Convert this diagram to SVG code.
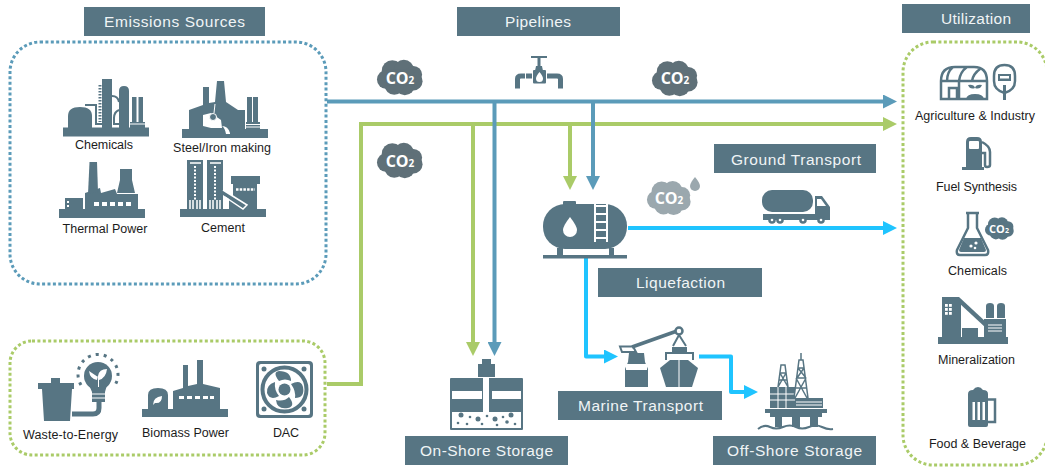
<svg xmlns="http://www.w3.org/2000/svg" xmlns:xlink="http://www.w3.org/1999/xlink" width="1045" height="468" viewBox="0 0 1045 468">
<style>
text{font-family:"Liberation Sans",Arial,sans-serif}
.lab{font-size:12.5px;fill:#1c1c1c;text-anchor:middle}
.hd{font-size:15.5px;fill:#f0f4f6;text-anchor:middle}
.hr{fill:#577583}
.d{fill:#577583}
.w{fill:#fff}
.sw{stroke:#fff;fill:none}
.sd{stroke:#577583;fill:none}
.co{font-family:"Open Sans","Liberation Sans",sans-serif;font-weight:700;fill:#fff;text-anchor:middle}
.box{fill:none;stroke-width:3;stroke-dasharray:3 2.4}
.bl{stroke:#5B9BB9;stroke-width:4;fill:none}
.gr{stroke:#AACB68;stroke-width:4;fill:none}
.cy{stroke:#1FC4FF;stroke-width:4;fill:none;stroke-linejoin:round}
</style>
<defs>
<symbol id="cloud" viewBox="-25 -19 50 38" overflow="visible">
<circle cx="-14" cy="2" r="10"/><circle cx="-8" cy="-7" r="11"/><circle cx="4" cy="-8" r="10.5"/><circle cx="14" cy="-3" r="9"/><circle cx="14" cy="4" r="9.5"/><circle cx="5" cy="8" r="10.5"/><circle cx="-6" cy="8" r="10"/><rect x="-14" y="-8" width="28" height="16"/>
</symbol>
<marker id="ab" viewBox="0 0 14 14" refX="1" refY="7" markerWidth="14" markerHeight="14" markerUnits="userSpaceOnUse" orient="auto"><path d="M0,0L14,7L0,14z" fill="#5B9BB9"/></marker>
<marker id="ag" viewBox="0 0 14 14" refX="1" refY="7" markerWidth="14" markerHeight="14" markerUnits="userSpaceOnUse" orient="auto"><path d="M0,0L14,7L0,14z" fill="#AACB68"/></marker>
<marker id="ac" viewBox="0 0 14 14" refX="1" refY="7" markerWidth="14" markerHeight="14" markerUnits="userSpaceOnUse" orient="auto"><path d="M0,0L14,7L0,14z" fill="#1FC4FF"/></marker>
</defs>
<rect width="1045" height="468" fill="#fff"/>

<g id="connectors">
<path class="gr" d="M327,384H361V124H884" marker-end="url(#ag)"/>
<path class="gr" d="M473,124V343" marker-end="url(#ag)"/>
<path class="gr" d="M570,124V177" marker-end="url(#ag)"/>
<path class="bl" d="M327,101.5H884" marker-end="url(#ab)"/>
<path class="bl" d="M494.5,101.5V343" marker-end="url(#ab)"/>
<path class="bl" d="M593,101.5V177" marker-end="url(#ab)"/>
<path class="cy" d="M628,228H884" marker-end="url(#ac)"/>
<path class="cy" d="M586,257V356.5H605" marker-end="url(#ac)"/>
<path class="cy" d="M699,356.5H731V392H745" marker-end="url(#ac)"/>
</g>

<g id="emissions-sources">
<rect class="box" x="10" y="42" width="316" height="242" rx="30" stroke="#5B9BB9"/>
<rect class="hr" x="84" y="7" width="181" height="29"/>
<text class="hd" x="174.500" y="27" textLength="141">Emissions Sources</text>
</g>

<g id="chemicals-source">
<g class="d">
<rect x="63" y="127.500" width="86" height="9"/>
<path d="M68,128V116Q68,107 80,107Q92,107 92,116V128z"/>
<rect x="102" y="79" width="10" height="49"/>
<path d="M119,128V91Q119,86 124,86Q129,86 129,91V128z"/>
<rect x="132" y="97" width="4.500" height="28"/><rect x="138.500" y="97" width="4.500" height="28"/>
<rect x="130" y="122" width="15" height="6"/>
</g>
<path class="sd" stroke-width="2" d="M85,105H96V124H102M112,96Q118,96 119,102M119,110Q114,112 114,118V124H119"/>
<path class="sd" stroke-width="3" stroke-dasharray="1.500 1.500" d="M100,85V122"/>
<path class="sw" stroke-width="1" d="M130,124H145"/>
<text class="lab" x="104" y="149" textLength="58">Chemicals</text>
</g>

<g id="steel-iron-making">
<g class="d">
<rect x="182" y="129" width="86" height="9"/>
<path d="M189,130V110L203,105V87H209V103L215,102L217,81H224L226,102L238,110H245V130z"/>
<rect x="247" y="97" width="5" height="28"/><rect x="253" y="97" width="5" height="28"/>
<rect x="246" y="122" width="14" height="7"/>
</g>
<path class="w" d="M203,115L211,113L221,120L222,128H211L203,126z"/>
<circle cx="213" cy="117" r="3.500" fill="#577583" stroke="#fff"/>
<path class="w" d="M222,126Q228,126 230,133V134H226Q225,128 222,126z"/>
<path class="sw" stroke-width="1" d="M246,124.500H260M246,127H260M214,113L215,104"/>
<text class="lab" x="222" y="152" textLength="98">Steel/Iron making</text>
</g>

<g id="thermal-power">
<g class="d">
<rect x="59" y="209" width="86" height="9"/>
<rect x="65" y="198" width="18" height="12"/>
<path d="M85,210V193L100,188L101,193L115,189L117,194H138V210z"/>
<path d="M89.500,162H97L98,192L88,194z"/>
<path d="M120,169H132V180L135,193H117L120,180z"/>
</g>
<g class="w"><rect x="94" y="202" width="5" height="4"/><rect x="102" y="202" width="5" height="4"/><rect x="110" y="202" width="5" height="4"/><rect x="118" y="202" width="5" height="4"/><rect x="126" y="202" width="5" height="4"/><rect x="67" y="201" width="2" height="2"/><rect x="67" y="205" width="2" height="2"/></g>
<text class="lab" x="105" y="233" textLength="85">Thermal Power</text>
</g>

<g id="cement">
<g class="d">
<rect x="180" y="209" width="86" height="8"/>
<rect x="187" y="160" width="16" height="49"/><rect x="207" y="160" width="16" height="49"/>
<rect x="231" y="176" width="29" height="8"/>
<path d="M233,184H257V209H229V199H233z"/>
<path d="M223,190L247,205L244,209L223,195z"/>
</g>
<path class="sw" stroke-width="2" stroke-dasharray="2 1.500" d="M195,166V200M215,166V200"/>
<path class="sw" stroke-width="1.500" d="M190,163H201M210,163H221M190,200V209M193,200V209M197,200V209M200,200V209M210,200V209M213,200V209M217,200V209M220,200V209M223,190L247,205L243,209L225,197"/>
<path class="sw" stroke-width="2.500" stroke-dasharray="2.500 1.200" d="M236,189.500H255"/>
<text class="lab" x="223" y="232" textLength="44">Cement</text>
</g>

<g id="capture-sources">
<rect class="box" x="10" y="341" width="315" height="114" rx="22" stroke="#AACB68"/>
</g>

<g id="waste-to-energy">
<g class="d">
<path d="M38,383H74V389H72L70,421H44L42,389H38z"/>
<path d="M51,383V378H60V383z"/>
<circle cx="98" cy="376" r="14"/>
<path d="M89,385H107L105,392V402H92V392z"/>
</g>
<path class="sd" stroke-width="5" d="M72,414H93Q99,414 99,408V402"/>
<path class="sw" stroke-width="1" d="M92,394H105M92,398H105"/>
<path class="w" d="M98,387V377L89,371Q90,379 97,380L98,376Q99,369 107,369Q106,378 99,380V387z"/>
<path class="sd" stroke-width="3" stroke-dasharray="3 5" d="M81,385A20,20 0 1 1 115,385"/>
<text class="lab" x="70.500" y="439" textLength="95">Waste-to-Energy</text>
</g>

<g id="biomass-power">
<g class="d">
<rect x="142" y="409" width="86" height="8"/>
<path d="M148,410V395Q148,388 158,388Q168,388 168,395V410z"/>
<path d="M173,410V391L183,388V365H188V386L197,384V360H203V384L220,388V410z"/>
</g>
<g class="w"><rect x="179" y="396" width="5" height="3"/><rect x="187" y="396" width="5" height="3"/><rect x="195" y="396" width="5" height="3"/><rect x="203" y="396" width="5" height="3"/><rect x="210" y="396" width="4" height="3"/><path d="M153,405Q153,397 162,396Q162,404 155,403z"/></g>
<text class="lab" x="185.500" y="437" textLength="87">Biomass Power</text>
</g>

<g id="dac">
<rect class="d" x="256" y="361" width="57" height="57" rx="4"/>
<rect class="w" x="259" y="364" width="51" height="51" rx="2"/>
<g class="d"><circle cx="264" cy="369" r="2.500"/><circle cx="304" cy="369" r="2.500"/><circle cx="264" cy="409" r="2.500"/><circle cx="304" cy="409" r="2.500"/></g>
<circle cx="284.500" cy="389.500" r="22" fill="#fff" stroke="#577583" stroke-width="4"/>
<g class="d">
<circle cx="284.500" cy="389.500" r="6"/>
<path d="M279,381Q272,372 279,371Q291,371 291,381Q285,378 279,381z"/>
<path d="M291,384Q301,379 303,387Q305,398 295,398Q296,391 291,384z"/>
<path d="M289,397Q296,406 288,408Q277,410 276,400Q284,402 289,397z"/>
<path d="M279,396Q270,401 267,393Q266,385 275,382Q274,390 279,396z"/>
</g>
<text class="lab" x="286" y="437" textLength="26">DAC</text>
</g>

<g id="pipelines">
<rect class="hr" x="457" y="7" width="163" height="29"/>
<text class="hd" x="538" y="27" textLength="66">Pipelines</text>
</g>

<g id="valve">
<g class="d"><rect x="531" y="56" width="16" height="2"/><rect x="537.500" y="58" width="3" height="8"/><path d="M536,66H542L543,71H535z"/>
<rect x="533" y="70" width="13" height="13.500" rx="1"/><rect x="526" y="73.500" width="6" height="5"/><rect x="547" y="73.500" width="6" height="5"/></g>
<path class="sd" stroke-width="5" d="M517.500,88.500V79Q517.500,76 521,76H525M560.500,88.500V79Q560.500,76 557,76H553"/>
<path class="w" d="M539.500,72Q543,76 543,78.500A3.500,3.500 0 0 1 536,78.500Q536,76 539.500,72z"/>
</g>

<g id="co2-1" fill="#5F7078"><use xlink:href="#cloud" href="#cloud" x="376" y="59" width="48" height="37"/><text class="co" x="400" y="84" font-size="16">CO<tspan font-size="10">2</tspan></text></g>
<g id="co2-2" fill="#5F7078"><use xlink:href="#cloud" href="#cloud" x="651" y="60" width="48" height="37"/><text class="co" x="675" y="84" font-size="16">CO<tspan font-size="10">2</tspan></text></g>
<g id="co2-3" fill="#5F7078"><use xlink:href="#cloud" href="#cloud" x="376" y="142" width="48" height="37"/><text class="co" x="400" y="167" font-size="16">CO<tspan font-size="10">2</tspan></text></g>

<g id="liquefaction">
<g class="d">
<rect x="563" y="201" width="13" height="5" rx="1"/>
<rect x="543" y="204" width="84" height="45" rx="22"/>
<rect x="557" y="248" width="6" height="8"/><rect x="609" y="248" width="5" height="8"/>
<rect x="543" y="255" width="84" height="3.500"/>
</g>
<path class="w" d="M570,217Q577,226 577,230A7,7 0 0 1 563,230Q563,226 570,217z"/>
<path class="sw" stroke-width="2" d="M595,204V242M607,204V242"/>
<path class="sw" stroke-width="2" d="M595,206H607M595,214H607M595,222H607M595,230H607M595,238H607"/>
<rect class="hr" x="598" y="268" width="164" height="29"/>
<text class="hd" x="680.500" y="288" textLength="89">Liquefaction</text>
</g>

<g id="co2-liquid" fill="#9BA8AE"><use xlink:href="#cloud" href="#cloud" x="646" y="180" width="46" height="36"/><text class="co" x="669" y="204" font-size="16">CO<tspan font-size="10">2</tspan></text><path d="M695,177Q700,183 700,186A5,5 0 0 1 690,186Q690,183 695,177z"/></g>

<g id="ground-transport">
<rect class="hr" x="714" y="144" width="162" height="29"/>
<text class="hd" x="796" y="165" textLength="130">Ground Transport</text>
<g class="d">
<rect x="762" y="190" width="51" height="22" rx="10"/>
<rect x="763" y="214" width="52" height="6"/>
<path d="M815,196H822L830,207V220H815z"/>
<circle cx="772" cy="220" r="3.800"/><circle cx="780" cy="220" r="3.800"/><circle cx="803" cy="220" r="3.800"/><circle cx="821" cy="220" r="3.800"/>
</g>
<path class="w" d="M817,199H821L826,206H817z"/>
<g class="w"><circle cx="772" cy="220" r="1.300"/><circle cx="780" cy="220" r="1.300"/><circle cx="803" cy="220" r="1.300"/><circle cx="821" cy="220" r="1.300"/></g>
</g>

<g id="onshore-storage">
<g class="d">
<rect x="450" y="378" width="73" height="52" rx="1"/>
<path d="M478,364H482V359H491V364H495V377H478z"/>
</g>
<g class="w"><rect x="483" y="377" width="6" height="38"/><rect x="452" y="391" width="30" height="8"/><rect x="492" y="391" width="29" height="8"/><rect x="452" y="412" width="69" height="16"/><rect x="483" y="405" width="6" height="10"/></g>
<g class="d"><circle cx="461" cy="415" r="2.500"/><circle cx="478" cy="419" r="2.500"/><circle cx="495" cy="419" r="2.500"/><circle cx="511" cy="415" r="2.500"/><circle cx="470" cy="417" r="1.300"/><circle cx="487" cy="416" r="1.300"/><circle cx="503" cy="417" r="1.300"/><circle cx="458" cy="423" r="1.300"/><circle cx="467" cy="424" r="1.300"/><circle cx="482" cy="424" r="1.300"/><circle cx="497" cy="425" r="1.300"/><circle cx="507" cy="422" r="1.800"/><circle cx="515" cy="424" r="1.300"/></g>
<rect class="hr" x="405" y="436" width="163" height="29"/>
<text class="hd" x="486.500" y="456" textLength="133">On-Shore Storage</text>
</g>

<g id="marine-transport">
<g class="d">
<path d="M625,387V369L628,362L629,353H644L645,362L648,369V387z"/>
<path d="M660,368L670,360H688L698,368L692,387H666z"/>
<rect x="672" y="347" width="15" height="6"/>
</g>
<rect class="w" x="626" y="364" width="21" height="6"/>
<path class="sd" stroke-width="3.500" d="M632,347L677,331"/>
<path class="sd" stroke-width="2" d="M620,346.500H633L636,352H622zM679,335L673,346M679,335L686,346M666,360V353H693V360"/>
<circle cx="679" cy="331" r="3.500" fill="#fff" stroke="#577583" stroke-width="2.500"/>
<path class="sw" stroke-width="1" d="M679,360V387"/>
<rect class="hr" x="558" y="391" width="164" height="29"/>
<text class="hd" x="640.500" y="411" textLength="125">Marine Transport</text>
</g>

<g id="offshore-storage">
<g class="d">
<rect x="770" y="387" width="25" height="21"/>
<rect x="795" y="398" width="28" height="10"/>
<rect x="765" y="409" width="62" height="4"/>
<rect x="770" y="413" width="52" height="4"/>
<rect x="775" y="416" width="7" height="11"/><rect x="792" y="416" width="8" height="11"/><rect x="810" y="416" width="8" height="11"/>
</g>
<path class="sw" stroke-width="1" d="M770,394H795M770,400H795M778,387V408M786,387V408M796,402H822M796,405H822"/>
<path class="sd" stroke-width="1.500" d="M778,387L781,365H785L788,387M779,380H787M780,373H786M778,387L786,373M788,387L780,373"/>
<path class="sd" stroke-width="1.500" d="M794,398L799,360H803L808,398M797,378H806M796,388H807M798,368H804M795,398L806,378M807,398L796,378M797,378L804,368M806,378L798,368M801,360V353"/>
<path class="sd" stroke-width="2" d="M758,429Q764,424 770,427T783,427T796,427T809,427T822,427T833,429"/>
<rect class="hr" x="713" y="436" width="163" height="29"/>
<text class="hd" x="794.500" y="456" textLength="135">Off-Shore Storage</text>
</g>

<g id="utilization">
<rect class="box" x="903" y="42" width="144" height="423" rx="30" stroke="#AACB68"/>
<rect class="hr" x="902" y="4" width="128" height="29"/>
<text class="hd" x="976" y="24" textLength="70">Utilization</text>
</g>

<g id="agriculture-industry">
<path class="sd" stroke-width="2.500" d="M941,99V81Q941,67 955,67H974Q987,67 987,81V99zM941,81H987M953,67Q947,72 947,81M967,67Q960,72 959,81M980,69Q973,74 972,81M959,81V99"/>
<path class="sd" stroke-width="2.500" d="M949,99V88H957V99"/>
<path class="d" d="M966,99Q967,94 975,94Q983,94 984,99zM975,94V88Q970,90 968,85Q974,84 975,88Q976,84 982,85Q980,90 975,88z"/>
<path class="sd" stroke-width="2.500" d="M1004.500,65Q994,65 994,76V81Q994,90 1004.500,93Q1015,90 1015,81V76Q1015,65 1004.500,65z"/>
<rect class="d" x="998" y="74" width="13" height="7"/><rect class="w" x="1000" y="76" width="9" height="2.500"/>
<rect class="d" x="1003" y="85" width="3" height="15"/>
<text class="lab" x="975" y="120" textLength="120">Agriculture &amp; Industry</text>
</g>

<g id="fuel-synthesis">
<path class="d" d="M966,142Q966,137 971,137H977Q982,137 982,142V167H984V170H962V167H966z"/>
<rect class="w" x="969" y="141" width="10" height="8" rx="1"/>
<path class="sd" stroke-width="2.500" d="M982,142Q990,146 990,152V165Q990,167 987,167Q985,167 985,165V153H982"/>
<text class="lab" x="976.500" y="191" textLength="81">Fuel Synthesis</text>
</g>

<g id="chemicals-use">
<path class="sd" stroke-width="2.500" stroke-linejoin="round" d="M966,213H979M968,213V228L957,250Q956,255 960,255H985Q989,255 988,250L977,228V213"/>
<path class="d" d="M964,238H981L986,250Q986,252 984,252H961Q959,252 959,250z"/>
<circle class="w" cx="971" cy="246" r="1.600"/><circle class="w" cx="976" cy="243" r="1.600"/><circle class="w" cx="975" cy="248" r="1.300"/>
<g fill="#577583"><use xlink:href="#cloud" href="#cloud" x="984" y="217" width="31" height="23"/><text class="co" x="999" y="233" font-size="11">CO<tspan font-size="7">2</tspan></text></g>
<text class="lab" x="977.500" y="275" textLength="59">Chemicals</text>
</g>

<g id="mineralization">
<g class="d">
<rect x="938" y="337" width="70" height="7"/>
<rect x="942" y="297" width="17" height="40"/>
<path d="M959,297L986,322V328L959,303z"/>
<rect x="959" y="300" width="2" height="37"/>
<rect x="962" y="328" width="16" height="9"/>
<rect x="984" y="319" width="22" height="18"/>
<path d="M986,318V306Q986,303 990,303Q994,303 994,306V318zM997,318V306Q997,303 1001,303Q1005,303 1005,306V318z"/>
</g>
<path class="sw" stroke-width="1" d="M988,325H1002M988,328H1002M988,331H1002"/>
<g class="w"><rect x="945" y="304" width="2.800" height="2.800"/><rect x="949" y="304" width="2.800" height="2.800"/><rect x="945" y="308" width="2.800" height="2.800"/><rect x="949" y="308" width="2.800" height="2.800"/><rect x="945" y="312" width="2.800" height="2.800"/><rect x="949" y="312" width="2.800" height="2.800"/></g>
<text class="lab" x="976.500" y="364" textLength="77">Mineralization</text>
</g>

<g id="food-beverage">
<path class="d" d="M968,394Q968,390 973,390Q975,387 978,387Q981,387 983,390Q988,390 988,394V425Q988,427 986,427H970Q968,427 968,425z"/>
<path class="sd" stroke-width="2.500" d="M988,399.500H995V422H988"/>
<g class="w"><rect x="972.500" y="402" width="2.500" height="18"/><rect x="977.500" y="402" width="2.500" height="18"/><rect x="982.500" y="402" width="2.500" height="18"/></g>
<text class="lab" x="977.500" y="448" textLength="97">Food &amp; Beverage</text>
</g>
</svg>
